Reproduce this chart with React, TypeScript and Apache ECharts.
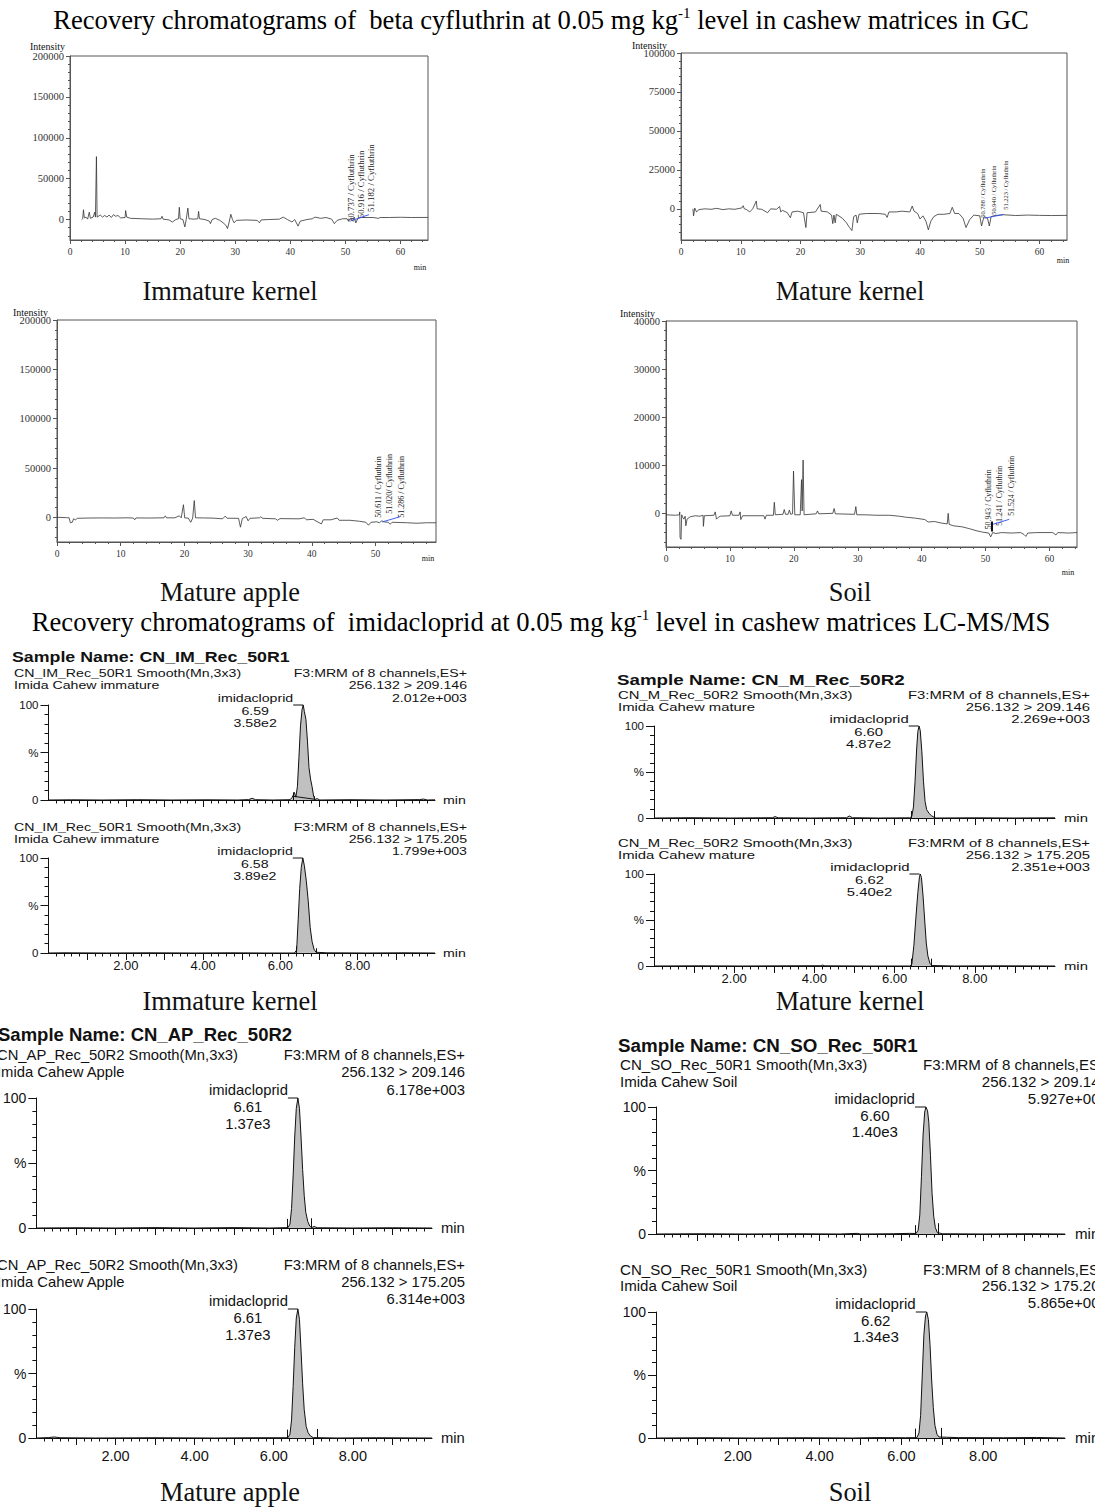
import React, { useEffect, useRef } from 'react';
import * as echarts from 'echarts';

// ================= TEXT CONTENT =================
const GC_HEADING = ['Recovery chromatograms of  beta cyfluthrin at 0.05 mg kg', '-1', ' level in cashew matrices in GC'];
const LC_HEADING = ['Recovery chromatograms of  imidacloprid at 0.05 mg kg', '-1', ' level in cashew matrices LC-MS/MS'];
const MATRIX_NAMES = ['Immature kernel', 'Mature kernel', 'Mature apple', 'Soil'];

// ================= GC DATA =================
const GC_X_TICKS = [0, 10, 20, 30, 40, 50, 60];
const GC_Y_TICKS_IK = [0, 50000, 100000, 150000, 200000];
const GC_Y_TICKS_MK = [0, 25000, 50000, 75000, 100000];
const GC_Y_TICKS_MA = [0, 50000, 100000, 150000, 200000];
const GC_Y_TICKS_SO = [0, 10000, 20000, 30000, 40000];

// [retention time (min), intensity]
const GC_IK = [
  [2.1, 0], [2.3, 1000], [2.45, 12000], [2.6, 2000], [2.9, 3000], [3.2, 500], [3.5, 9000], [3.7, 1500],
  [4.2, 3000], [4.5, 9000], [4.62, 3000], [4.8, 77000], [4.92, 3000], [5.5, 5500], [5.9, 3000], [6.3, 5000],
  [6.7, 3000], [7.1, 5500], [7.5, 2500], [7.9, 6000], [8.3, 4000], [8.7, 5000], [9.2, 2000], [10.0, 2500],
  [10.1, 11000], [10.3, 3000], [11, 1500], [13, 1000], [15, 500], [16.5, 1000], [16.7, 4000], [16.9, 500],
  [18, -500], [18.6, -3000], [19.2, 0], [19.7, 1000], [19.85, 15000], [20.0, 1000], [20.5, 0], [20.85, -9000],
  [21.1, 0], [21.4, 14000], [21.6, 1000], [22.5, 500], [23.2, 1000], [23.35, 10000], [23.5, 1000], [24.5, 0],
  [25.3, -2000], [25.5, -5000], [25.8, 0], [26.4, 1500], [27.2, -1000], [27.8, -4000], [28.3, -7000],
  [28.6, -11000], [28.9, -3000], [29.2, 6500], [29.5, 0], [29.8, -4000], [30.2, -1000], [32, -500],
  [34, -1000], [34.4, -4000], [34.7, -500], [36, 0], [38, 500], [38.7, 3000], [39.5, 0], [40.3, -3000],
  [40.8, 0], [41.4, -8000], [41.8, -2000], [43, 0], [44, 1000], [44.5, 3000], [45.5, 1500], [46.5, 2500],
  [47.5, 500], [48.0, -5000], [48.5, -1000], [49.5, 1000], [50.3, 1000], [50.6, -2000], [50.9, 1500],
  [51.3, -1500], [51.6, 3000], [51.9, -4000], [52.3, 2000], [53, 2500], [55, 2500], [56, 1500], [56.3, 2500],
  [58, 2500], [60, 2800], [62, 2500], [65, 2600],
];
const GC_MK = [
  [2.0, 0], [2.1, -4500], [2.3, 500], [2.6, -2000], [3.0, -500], [4, 0], [5, -300], [6, 300], [7, -500], [8, 0],
  [9, -300], [10.2, 600], [10.4, 2000], [10.6, 0], [11, -500], [11.5, -2000], [12, 0], [12.6, 5000], [12.75, 0],
  [13.5, -300], [14.5, -2500], [15, 0], [16, -300], [16.5, 1500], [16.7, -2000], [17, -1000], [17.8, -2500],
  [18.3, -5700], [18.6, -2000], [19.5, -1500], [20.5, -2500], [20.9, -12000], [21.1, -2500], [22.5, -2000],
  [23.3, 2800], [23.45, -1500], [24.5, -2000], [25.2, -4000], [25.4, -9500], [25.6, -4000], [25.8, -9000],
  [26.0, -3500], [27, -6000], [27.7, -9000], [28.2, -12000], [28.6, -14000], [28.9, -5000], [29.3, -4000],
  [29.5, -9000], [29.8, -3500], [31, -3000], [33, -3000], [34.2, -3500], [34.5, -5500], [34.8, -2000],
  [36, -2000], [37, -1500], [38.3, -2000], [38.7, 1800], [39, -1500], [39.6, -3000], [40.0, -6500],
  [40.5, -4500], [41.0, -8000], [41.4, -13500], [41.8, -8000], [42.3, -5000], [43, -3500], [44, -3500],
  [45, -3000], [45.4, 1000], [45.8, -3000], [46.5, -3000], [47.2, -6000], [47.7, -12000], [48.3, -7000],
  [49, -4000], [50, -4500], [50.3, -11000], [50.7, -5000], [51.3, -6000], [51.6, -11000], [51.9, -5000],
  [52.5, -4300], [54, -3800], [56, -4300], [58, -4000], [60, -4200], [62, -4300], [64.6, -4200],
];
const GC_MA = [
  [0, 0], [1.5, -300], [1.9, -500], [2.1, -5500], [2.4, -5000], [2.6, -1500], [2.9, -2500], [3.2, -1000],
  [5, -700], [7, -600], [9, -700], [11, -500], [12, -700], [12.2, -2500], [12.4, -600], [14.5, -700],
  [16.8, -500], [17.0, 1500], [17.2, -500], [18.5, -500], [19.2, 1500], [19.5, -500], [19.85, 12800],
  [20.05, -600], [20.6, -700], [21.0, -5000], [21.3, -800], [21.55, 17000], [21.75, -500], [23, -600],
  [24.5, -800], [26.0, -1500], [26.4, 1200], [26.7, -900], [28.5, -1000], [28.8, -10000], [29.1, -1200],
  [29.7, 800], [30.0, -3500], [30.3, -1000], [31.8, -500], [32, 500], [32.3, -1000], [34.3, -1500],
  [34.6, -3000], [35, -1300], [38, -1500], [38.8, -500], [39.2, -2500], [40.2, -2000], [41.5, -6700],
  [41.8, -2500], [43, -2500], [44.0, -700], [44.3, -3000], [46, -3000], [47.5, -4000], [48.5, -5000],
  [48.9, -8000], [49.3, -5000], [50.2, -4500], [50.6, -5500], [51, -3500], [51.3, -4500], [52.0, -5000],
  [52.3, -7000], [52.6, -5000], [55, -5500], [56.5, -6000], [58, -5500], [59.5, -5500],
];
const GC_SO = [
  [0, -300], [1.5, -400], [2.1, -300], [2.15, 300], [2.2, -5000], [2.35, -5400], [2.45, -300], [2.6, -800],
  [2.8, -1200], [3.0, -600], [3.1, -2600], [3.3, -1200], [3.8, -700], [4.6, -500], [5.3, -600], [5.8, -400],
  [5.85, -2700], [6.0, -500], [7.5, -400], [7.7, 300], [7.9, -1200], [8.2, -800], [8.5, -600], [10.0, -500],
  [10.2, 500], [10.4, -400], [11.4, -400], [11.6, 300], [11.7, -1300], [12, -500], [15.3, -500], [15.5, -1200],
  [15.7, -400], [16.8, -400], [16.95, 2300], [17.1, -300], [18.3, -200], [18.5, 800], [18.7, -200],
  [19.1, -200], [19.3, 700], [19.5, -200], [19.8, -100], [19.95, 8800], [20.15, -300], [21.0, -300],
  [21.2, 7000], [21.3, 500], [21.45, 11100], [21.6, -300], [22.5, -200], [23.5, -100], [23.7, 500],
  [23.9, -100], [26.1, 0], [26.3, 1000], [26.5, -100], [29.5, -200], [29.7, 1400], [29.85, -300], [31, -300],
  [33, -400], [35, -400], [36.5, -600], [37.5, -800], [39, -1000], [40.5, -1300], [41, -1800], [42, -1700],
  [43, -2000], [44.0, -2200], [44.15, 0], [44.3, -2300], [45, -2600], [46.3, -2800], [47.5, -3200],
  [48.5, -3600], [49.5, -3900], [50.5, -4100], [50.8, -4900], [51.1, -4000], [51.6, -4200], [52.5, -4000],
  [54, -4100], [55.5, -4000], [56.0, -4400], [56.3, -4800], [56.6, -4100], [58, -4000], [60.5, -4000],
  [61, -4500], [61.3, -4000], [63, -4100], [64.3, -4000],
];
const GC_RT_IK = ['50.737', '50.916', '51.182'];
const GC_RT_MK = ['50.788', '50.940', '51.223'];
const GC_RT_MA = ['50.611', '51.020', '51.286'];
const GC_RT_SO = ['50.943', '51.241', '51.524'];
const GC_RT_SEP = [' / ', ' / ', ' / '];
const GC_RT_SEP_MA = [' / ', '/ ', ' / '];
const GC_BLUE_IK = [[51.0, -1500], [54.3, 6000]];
const GC_BLUE_MK = [[50.8, -6000], [54.0, -3600]];
const GC_BLUE_MA = [[51.05, -4700], [53.9, 700]];
const GC_BLUE_SO = [[51.1, -2300], [53.7, -1250]];
const GC_BAR_SO = [[51.0, -3800], [51.0, -1700]];

// ================= LC-MS/MS DATA =================
const LC_SAMPLES = ['CN_IM_Rec_50R1', 'CN_M_Rec_50R2', 'CN_AP_Rec_50R2', 'CN_SO_Rec_50R1'];
const LC_MATRIX = ['Imida Cahew immature', 'Imida Cahew mature', 'Imida Cahew Apple', 'Imida Cahew Soil'];
const LC_TRANSITIONS = ['256.132 > 209.146', '256.132 > 175.205'];
const LC_INTENSITY = ['2.012e+003', '1.799e+003', '2.269e+003', '2.351e+003', '6.178e+003', '6.314e+003', '5.927e+003', '5.865e+003'];
const LC_RT = ['6.59', '6.58', '6.60', '6.62', '6.61', '6.61', '6.60', '6.62'];
const LC_AREA = ['3.58e2', '3.89e2', '4.87e2', '5.40e2', '1.37e3', '1.37e3', '1.40e3', '1.34e3'];
const LC_X_MAJOR = [1, 2, 3, 4, 5, 6, 7, 8, 9];
const LC_X_LABELS = [2, 4, 6, 8];
const LC_Y_MAJOR = [0, 50, 100];

// [time (min), % of max]
const LC_IM_209 = [
  [0, 0], [0.6, 0.2], [1.4, 0], [2.3, 0.3], [3.2, 0], [4.1, 0.2], [4.9, 0], [5.18, 0.4], [5.27, 1.8], [5.36, 0.3],
  [5.8, 0], [6.25, 0.3], [6.31, 3], [6.36, 8], [6.4, 3], [6.44, 14], [6.48, 45], [6.52, 78], [6.56, 95], [6.59, 100],
  [6.62, 93], [6.66, 85], [6.7, 62], [6.74, 34], [6.78, 22], [6.82, 14], [6.86, 4], [6.9, 0.5], [6.95, 1.5],
  [7.02, 0], [7.8, 0.3], [8.7, 0], [9.6, 0.4], [9.7, 1], [9.8, 0], [10, 0.2],
];
const LC_IM_175 = [
  [0, 0], [0.4, 0.2], [1.5, 0], [2.6, 0.2], [3.8, 0], [4.7, 0.2], [5.6, 0], [6.36, 0], [6.42, 3], [6.46, 35],
  [6.5, 68], [6.54, 90], [6.58, 100], [6.62, 92], [6.67, 76], [6.72, 55], [6.77, 27], [6.82, 12], [6.87, 4],
  [6.92, 0.8], [7.2, 0.2], [8.2, 0], [9.2, 0.2], [10, 0],
];
const LC_M_209 = [
  [0, 0], [0.9, 0.3], [1.9, 0], [2.95, 0.3], [3.02, 1.5], [3.1, 0.2], [3.9, 0], [4.8, 0.3], [4.87, 2.2], [4.95, 0.3],
  [5.6, 0], [6.38, 0.2], [6.43, 2], [6.47, 12], [6.51, 40], [6.55, 75], [6.58, 94], [6.61, 100], [6.64, 95],
  [6.68, 72], [6.72, 40], [6.76, 18], [6.8, 9], [6.86, 5], [6.92, 2.5], [6.98, 1], [7.03, 0], [8.0, 0.2], [9.0, 0], [10, 0.2],
];
const LC_M_175 = [
  [0, 0], [1.1, 0.2], [2.2, 0], [3.3, 0.2], [4.15, 0.3], [4.2, 1], [4.26, 0.2], [5.3, 0], [6.38, 0], [6.43, 2],
  [6.48, 22], [6.53, 52], [6.58, 80], [6.62, 97], [6.64, 100], [6.67, 96], [6.71, 76], [6.75, 50], [6.79, 25],
  [6.83, 11], [6.88, 3], [6.93, 0.5], [7.5, 0], [8.6, 0.2], [10, 0],
];
const LC_AP_209 = [
  [0, 0], [1, 0.2], [2, 0], [3, 0.3], [4, 0], [5, 0.3], [5.9, 0], [6.36, 0.3], [6.41, 3], [6.45, 15], [6.49, 40],
  [6.53, 70], [6.57, 92], [6.61, 100], [6.65, 92], [6.69, 70], [6.73, 45], [6.77, 25], [6.81, 12], [6.86, 5],
  [6.91, 1.5], [6.96, 0.3], [7.02, 1.2], [7.1, 0.2], [8, 0], [9, 0.2], [10, 0],
];
const LC_AP_175 = [
  [0, 0], [0.3, 0.3], [0.45, 0.8], [0.6, 0.2], [1.5, 0], [3, 0.2], [4.5, 0], [5.5, 0.2], [6.36, 0.2], [6.41, 3],
  [6.45, 14], [6.49, 40], [6.53, 70], [6.57, 93], [6.61, 100], [6.65, 92], [6.69, 68], [6.73, 42], [6.77, 22],
  [6.82, 9], [6.87, 4], [6.93, 1.5], [7.0, 0.3], [7.6, 0], [8.6, 0.2], [10, 0],
];
const LC_SO_209 = [
  [0, 0], [1, 0.2], [2.2, 0], [3.4, 0.2], [4.5, 0], [4.92, 0.5], [5, 0], [5.8, 0.2], [6.2, 0.5], [6.36, 0.4],
  [6.41, 3], [6.45, 15], [6.49, 45], [6.53, 78], [6.57, 96], [6.6, 100], [6.64, 97], [6.67, 88], [6.71, 62],
  [6.75, 32], [6.79, 14], [6.83, 5], [6.88, 1], [6.93, 0.8], [7.0, 0.2], [8, 0], [9.2, 0.2], [10, 0],
];
const LC_SO_175 = [
  [0, 0], [1.2, 0.2], [2.4, 0], [3.6, 0.2], [4.8, 0], [5.4, 0.3], [6.1, 0.2], [6.38, 0.3], [6.43, 4], [6.47, 18],
  [6.51, 50], [6.55, 82], [6.59, 97], [6.62, 100], [6.66, 94], [6.7, 74], [6.74, 46], [6.78, 24], [6.82, 10],
  [6.87, 3], [6.92, 0.8], [7.1, 0.6], [7.4, 0.3], [8.5, 0.2], [9.3, 0.4], [10, 0],
];
// integration markers [time, height %]
const LC_MARK_IM_209 = [[6.32, 8], [6.87, 4]];
const LC_MARK_IM_175 = [[6.41, 7], [6.93, 5]];
const LC_MARK_M_209 = [[6.42, 7.5], [7.0, 7.5]];
const LC_MARK_M_175 = [[6.42, 8], [6.92, 8]];
const LC_MARK_AP_209 = [[6.35, 7], [6.94, 7.5]];
const LC_MARK_AP_175 = [[6.35, 6.5], [7.11, 7]];
const LC_MARK_SO_209 = [[6.34, 7], [6.91, 8.5]];
const LC_MARK_SO_175 = [[6.34, 7.5], [6.97, 8]];
const LC_BASE_IM_209 = [[6.32, 4], [6.88, 0.8]];

// ================= LAYOUT =================
const SERIF = 'Liberation Serif';
const SANS = 'Liberation Sans';

const GC_PLOTS = [
  { data: GC_IK, rt: GC_RT_IK, sep: GC_RT_SEP, blue: GC_BLUE_IK, yTicks: GC_Y_TICKS_IK, bars: [] as number[][][] },
  { data: GC_MK, rt: GC_RT_MK, sep: GC_RT_SEP, blue: GC_BLUE_MK, yTicks: GC_Y_TICKS_MK, bars: [] as number[][][] },
  { data: GC_MA, rt: GC_RT_MA, sep: GC_RT_SEP_MA, blue: GC_BLUE_MA, yTicks: GC_Y_TICKS_MA, bars: [] as number[][][] },
  { data: GC_SO, rt: GC_RT_SO, sep: GC_RT_SEP, blue: GC_BLUE_SO, yTicks: GC_Y_TICKS_SO, bars: [GC_BAR_SO] },
];
const GC_FRAMES = [
  { left: 70, top: 56, width: 358, height: 184, xMax: 65, yMin: -25000, yMax: 200000, yMajor: 50000, yMinor: 10000, intensity: [30, 46], minPos: [420, 267], labelV: 0, labelFont: 8.8, labelDx: [1.2, 10.3, 18.8], labelDy: [2.4, -1.3, -7.6], title: [230, 291] },
  { left: 681, top: 53, width: 386, height: 187, xMax: 64.6, yMin: -20000, yMax: 100000, yMajor: 25000, yMinor: 5000, intensity: [632, 45], minPos: [1063, 260], labelV: -5700, labelFont: 6.4, labelDx: [-2, 8, 18], labelDy: [0, -3, -8], title: [850, 291] },
  { left: 57, top: 320, width: 379, height: 222, xMax: 59.5, yMin: -25000, yMax: 200000, yMajor: 50000, yMinor: 10000, intensity: [13, 312], minPos: [428, 558], labelV: -300, labelFont: 8, labelDx: [-1, 8, 18], labelDy: [0, -4, 0], title: [230, 592] },
  { left: 666, top: 321, width: 411, height: 226, xMax: 64.3, yMin: -7000, yMax: 40000, yMajor: 10000, yMinor: 2000, intensity: [620, 313], minPos: [1068, 572], labelV: -2600, labelFont: 7.8, labelDx: [-3.3, 5.8, 16.4], labelDy: [3.5, 0, -10], title: [850, 592] },
];

const LC_TRACES = [LC_IM_209, LC_IM_175, LC_M_209, LC_M_175, LC_AP_209, LC_AP_175, LC_SO_209, LC_SO_175];
const LC_MARKS = [LC_MARK_IM_209, LC_MARK_IM_175, LC_MARK_M_209, LC_MARK_M_175, LC_MARK_AP_209, LC_MARK_AP_175, LC_MARK_SO_209, LC_MARK_SO_175];
const LC_BASES = [[LC_BASE_IM_209], [], [], [], [], [], [], []];

const LC_SUBPLOTS = [
  { panel: 0, grid: { left: 48.5, top: 705, width: 386.5, height: 95 }, showX: false, hdr: [673, 685], rhs: [673, 685, 698] },
  { panel: 0, grid: { left: 48.5, top: 858, width: 386.5, height: 95 }, showX: true, hdr: [827, 839], rhs: [827, 839, 851] },
  { panel: 1, grid: { left: 654, top: 726, width: 401, height: 92 }, showX: false, hdr: [695, 707], rhs: [695, 707, 719] },
  { panel: 1, grid: { left: 654, top: 874, width: 401, height: 92 }, showX: true, hdr: [843, 855], rhs: [843, 855, 867] },
  { panel: 2, grid: { left: 31, top: 1098, width: 401, height: 130 }, showX: false, hdr: [1055, 1072], rhs: [1055, 1072, 1090] },
  { panel: 2, grid: { left: 31, top: 1309, width: 401, height: 129 }, showX: true, hdr: [1265, 1282], rhs: [1265, 1282, 1299] },
  { panel: 3, grid: { left: 656, top: 1107, width: 409, height: 127 }, showX: false, hdr: [1065, 1082], rhs: [1065, 1082, 1099] },
  { panel: 3, grid: { left: 656, top: 1312, width: 409, height: 126 }, showX: true, hdr: [1270, 1286], rhs: [1270, 1286, 1303] },
];
const LC_PANELS = [
  { nameX: 12, nameY: 657, nameSize: 14, nameScale: 1.27, size: 11.8, scaleX: 1.2, leftX: 14, rightX: 467, minX: 443, tickSize: 13, yTickSize: 11.5, xMargin: 6, dx: 10, cx: 48, dy: [-7, 6, 18], title: [230, 1001] },
  { nameX: 617, nameY: 680, nameSize: 14, nameScale: 1.34, size: 11.8, scaleX: 1.26, leftX: 618, rightX: 1090, minX: 1064, tickSize: 13, yTickSize: 11.5, xMargin: 6, dx: 10, cx: 50, dy: [-7, 6, 18], title: [850, 1001] },
  { nameX: -2, nameY: 1034, nameSize: 18.5, nameScale: 1, size: 14.8, scaleX: 1, leftX: -3, rightX: 465, minX: 441, tickSize: 14.5, yTickSize: 14, xMargin: 10, dx: 10, cx: 50, dy: [-8, 9, 26], title: [230, 1492] },
  { nameX: 618, nameY: 1045, nameSize: 18.8, nameScale: 1, size: 14.8, scaleX: 1.02, leftX: 620, rightX: 1108, minX: 1075, tickSize: 14.5, yTickSize: 14, xMargin: 10, dx: 11, cx: 51, dy: [-8, 9, 25], title: [850, 1492] },
];

// ================= HELPERS =================
function minorTicks(min: number, max: number, step: number, major: number) {
  const out: number[] = [];
  const start = Math.ceil(min / step - 1e-9);
  for (let k = start; k * step <= max + 1e-9; k++) {
    const v = Math.round(k * step * 1e6) / 1e6;
    const q = v / major;
    if (Math.abs(q - Math.round(q)) > 1e-6 && v > min && v < max) out.push(v);
  }
  return out;
}

function seg(a: number[], b: number[]) {
  return [{ coord: a }, { coord: b }];
}

function buildOption(idx: { gc: number[]; lc: number[] }) {
  const grid: any[] = [];
  const xAxis: any[] = [];
  const yAxis: any[] = [];
  const series: any[] = [];

  GC_PLOTS.forEach((p, i) => {
    const f = GC_FRAMES[i];
    const g = grid.length;
    grid.push({ left: f.left, top: f.top, width: f.width, height: f.height, show: true, borderColor: '#555', borderWidth: 1 });
    const ls = { color: '#555', width: 1 };
    const xMaj = GC_X_TICKS.filter((v) => v <= f.xMax);
    const lab = { fontFamily: SERIF, color: '#333' };
    xAxis.push({
      type: 'value', gridIndex: g, min: 0, max: f.xMax, position: 'bottom',
      axisLine: { show: true, onZero: false, lineStyle: ls },
      axisTick: { show: true, customValues: xMaj, length: 4, lineStyle: ls },
      axisLabel: { show: true, customValues: xMaj, formatter: (v: number) => String(v), fontSize: 9.5, margin: 7, ...lab },
      splitLine: { show: false },
    });
    xAxis.push({
      type: 'value', gridIndex: g, min: 0, max: f.xMax, position: 'bottom',
      axisLine: { show: false, onZero: false },
      axisTick: { show: true, customValues: minorTicks(0, f.xMax, 2, 10), length: 2, lineStyle: ls },
      axisLabel: { show: false }, splitLine: { show: false },
    });
    yAxis.push({
      type: 'value', gridIndex: g, min: f.yMin, max: f.yMax, position: 'left',
      axisLine: { show: true, onZero: false, lineStyle: ls },
      axisTick: { show: true, customValues: p.yTicks, length: 4, lineStyle: ls },
      axisLabel: { show: true, customValues: p.yTicks, formatter: (v: number) => String(v), fontSize: 10.5, margin: 6, ...lab },
      splitLine: { show: false },
    });
    yAxis.push({
      type: 'value', gridIndex: g, min: f.yMin, max: f.yMax, position: 'left',
      axisLine: { show: false, onZero: false },
      axisTick: { show: true, customValues: minorTicks(f.yMin, f.yMax, f.yMinor, f.yMajor), length: 2, lineStyle: ls },
      axisLabel: { show: false }, splitLine: { show: false },
    });
    idx.gc.push(series.length);
    series.push({
      type: 'line', xAxisIndex: 2 * g, yAxisIndex: 2 * g, data: p.data, symbol: 'none', silent: true,
      lineStyle: { color: '#333', width: 0.8 },
      markLine: {
        silent: true, symbol: ['none', 'none'], label: { show: false },
        lineStyle: { color: '#111', width: 2, type: 'solid' },
        data: p.bars.map((b) => seg(b[0], b[1])),
      },
    });
    series.push({
      type: 'line', xAxisIndex: 2 * g, yAxisIndex: 2 * g, data: p.blue, symbol: 'none', silent: true,
      lineStyle: { color: '#2d4ff0', width: 0.9 },
    });
  });

  LC_TRACES.forEach((tr, t) => {
    const sp = LC_SUBPLOTS[t];
    const pn = LC_PANELS[sp.panel];
    const g = grid.length;
    grid.push({ ...sp.grid, show: false });
    const ls = { color: '#111', width: 1 };
    const lab = { fontFamily: SANS, color: '#111' };
    xAxis.push({
      type: 'value', gridIndex: g, min: 0, max: 10, position: 'bottom',
      axisLine: { show: true, onZero: false, lineStyle: ls },
      axisTick: { show: true, customValues: LC_X_MAJOR, length: 7, lineStyle: ls },
      axisLabel: { show: sp.showX, customValues: LC_X_LABELS, formatter: (v: number) => v.toFixed(2), fontSize: pn.tickSize, margin: pn.xMargin, ...lab },
      splitLine: { show: false },
    });
    xAxis.push({
      type: 'value', gridIndex: g, min: 0, max: 10, position: 'bottom',
      axisLine: { show: false, onZero: false },
      axisTick: { show: true, customValues: minorTicks(0, 10, 0.2, 1), length: 3.5, lineStyle: ls },
      axisLabel: { show: false }, splitLine: { show: false },
    });
    yAxis.push({
      type: 'value', gridIndex: g, min: 0, max: 100, position: 'left',
      axisLine: { show: true, onZero: false, lineStyle: ls },
      axisTick: { show: true, customValues: LC_Y_MAJOR, length: 8, lineStyle: ls },
      axisLabel: { show: true, customValues: LC_Y_MAJOR, formatter: (v: number) => (v === 50 ? '%' : String(v)), fontSize: pn.yTickSize, margin: 10, ...lab },
      splitLine: { show: false },
    });
    yAxis.push({
      type: 'value', gridIndex: g, min: 0, max: 100, position: 'left',
      axisLine: { show: false, onZero: false },
      axisTick: { show: true, customValues: minorTicks(0, 100, 10, 50), length: 4, lineStyle: ls },
      axisLabel: { show: false }, splitLine: { show: false },
    });
    idx.lc.push(series.length);
    const markData = LC_MARKS[t].map((m) => seg([m[0], 0], [m[0], m[1]]));
    LC_BASES[t].forEach((b) => markData.push(seg(b[0], b[1])));
    series.push({
      type: 'line', xAxisIndex: 2 * g, yAxisIndex: 2 * g, data: tr, symbol: 'none', silent: true,
      lineStyle: { color: '#111', width: 1 },
      areaStyle: { color: '#c0c0c0', opacity: 1 },
      markLine: {
        silent: true, symbol: ['none', 'none'], label: { show: false },
        lineStyle: { color: '#111', width: 1, type: 'solid' },
        data: markData,
      },
    });
  });

  return {
    animation: false,
    backgroundColor: '#ffffff',
    grid, xAxis, yAxis, series,
  };
}

function txt(x: number, y: number, text: string, font: string, align = 'left', extra: any = {}) {
  return {
    type: 'text', x, y, silent: true, ...extra,
    style: { text, font, fill: '#111', align, verticalAlign: 'middle', textAlign: align, textVerticalAlign: 'middle' },
  };
}

function heading(parts: string[], x: number, y: number) {
  return {
    type: 'text', x, y, silent: true,
    style: {
      text: `{a|${parts[0]}}{s|${parts[1]}}{a|${parts[2]}}`,
      align: 'center', verticalAlign: 'middle', textAlign: 'center', textVerticalAlign: 'middle',
      rich: {
        a: { fontFamily: SERIF, fontSize: 26.6, fill: '#000', lineHeight: 30 },
        s: { fontFamily: SERIF, fontSize: 15, fill: '#000', lineHeight: 17, verticalAlign: 'top' },
      },
    },
  };
}

function buildGraphics(chart: any, idx: { gc: number[]; lc: number[] }) {
  const els: any[] = [];
  els.push(heading(GC_HEADING, 541, 20));
  els.push(heading(LC_HEADING, 541, 622));
  const titleFont = `26.4px "${SERIF}"`;

  GC_FRAMES.forEach((f, i) => {
    const p = GC_PLOTS[i];
    els.push(txt(f.title[0], f.title[1], MATRIX_NAMES[i], titleFont, 'center', {}));
    els.push(txt(f.intensity[0], f.intensity[1], 'Intensity', `10px "${SERIF}"`, 'left'));
    els.push(txt(f.minPos[0], f.minPos[1], 'min', `8px "${SERIF}"`, 'center'));
    p.rt.forEach((rt, k) => {
      const pt = chart.convertToPixel({ seriesIndex: idx.gc[i] }, [Number(rt), f.labelV]);
      els.push({
        type: 'text', x: pt[0] + f.labelDx[k], y: pt[1] + f.labelDy[k], rotation: Math.PI / 2, silent: true,
        style: {
          text: `${rt}${p.sep[k]}Cyfluthrin`, font: `${f.labelFont}px "${SERIF}"`, fill: '#222',
          align: 'left', verticalAlign: 'middle', textAlign: 'left', textVerticalAlign: 'middle',
        },
      });
    });
  });

  LC_PANELS.forEach((pn, p) => {
    els.push(txt(pn.nameX, pn.nameY, `Sample Name: ${LC_SAMPLES[p]}`, `bold ${pn.nameSize}px "${SANS}"`, 'left', { scaleX: pn.nameScale }));
    els.push(txt(pn.title[0], pn.title[1], MATRIX_NAMES[p], titleFont, 'center'));
  });

  LC_SUBPLOTS.forEach((sp, t) => {
    const pn = LC_PANELS[sp.panel];
    const font = `${pn.size}px "${SANS}"`;
    const sc = { scaleX: pn.scaleX };
    els.push(txt(pn.leftX, sp.hdr[0], `${LC_SAMPLES[sp.panel]} Smooth(Mn,3x3)`, font, 'left', sc));
    els.push(txt(pn.leftX, sp.hdr[1], LC_MATRIX[sp.panel], font, 'left', sc));
    els.push(txt(pn.rightX, sp.rhs[0], 'F3:MRM of 8 channels,ES+', font, 'right', sc));
    els.push(txt(pn.rightX, sp.rhs[1], LC_TRANSITIONS[t % 2], font, 'right', sc));
    els.push(txt(pn.rightX, sp.rhs[2], LC_INTENSITY[t], font, 'right', sc));
    els.push(txt(pn.minX, sp.grid.top + sp.grid.height, 'min', font, 'left', sc));
    const apex = chart.convertToPixel({ seriesIndex: idx.lc[t] }, [Number(LC_RT[t]), 100]);
    els.push(txt(apex[0] - pn.dx, apex[1] + pn.dy[0], 'imidacloprid', font, 'right', sc));
    els.push(txt(apex[0] - pn.cx, apex[1] + pn.dy[1], LC_RT[t], font, 'center', sc));
    els.push(txt(apex[0] - pn.cx, apex[1] + pn.dy[2], LC_AREA[t], font, 'center', sc));
    els.push({
      type: 'line', silent: true,
      shape: { x1: apex[0] - pn.dx, y1: apex[1], x2: apex[0], y2: apex[1] },
      style: { stroke: '#111', lineWidth: 1 },
    });
  });
  return els;
}

export default function App() {
  const ref = useRef<HTMLDivElement>(null);
  useEffect(() => {
    if (!ref.current) return;
    const chart = echarts.init(ref.current, null, { renderer: 'svg' });
    const idx = { gc: [] as number[], lc: [] as number[] };
    chart.setOption(buildOption(idx) as any);
    chart.setOption({ graphic: buildGraphics(chart, idx) } as any);
    return () => chart.dispose();
  }, []);
  return (
    <div
      ref={ref}
      style={{ position: 'absolute', left: 0, top: 0, width: 1095, height: 1507, background: '#fff' }}
    />
  );
}
